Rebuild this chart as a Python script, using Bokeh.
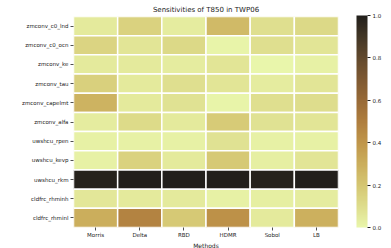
from bokeh.plotting import figure
from bokeh.models import ColumnDataSource, LinearColorMapper, ColorBar, FixedTicker
from bokeh.embed import file_html
from bokeh.resources import INLINE
import numpy as np

methods = ["Morris", "Delta", "RBD", "HDMR", "Sobol", "LB"]
params = ["zmconv_c0_lnd", "zmconv_c0_ocn", "zmconv_ke", "zmconv_tau",
          "zmconv_capelmt", "zmconv_alfa", "uwshcu_rpen", "uwshcu_kevp",
          "uwshcu_rkm", "cldfrc_rhminh", "cldfrc_rhminl"]

morris = [0.05, 0.14, 0.05, 0.16, 0.28, 0.04, 0.02, 0.02, 0.985, 0.06, 0.30]
delta  = [0.15, 0.07, 0.05, 0.05, 0.05, 0.11, 0.02, 0.15, 1.00, 0.05, 0.48]
rbd    = [0.04, 0.12, 0.04, 0.09, 0.08, 0.05, 0.02, 0.05, 1.00, 0.05, 0.19]
hdmr   = [0.25, 0.01, 0.07, 0.07, 0.01, 0.18, 0.08, 0.19, 1.00, 0.02, 0.42]
sobol  = [0.09, 0.09, 0.00, 0.04, 0.09, 0.08, 0.02, 0.03, 0.985, 0.03, 0.05]
lb     = [0.12, 0.07, 0.02, 0.07, 0.10, 0.07, 0.02, 0.07, 1.00, 0.04, 0.29]

cbar_ticks = [0.0, 0.2, 0.4, 0.6, 0.8, 1.0]

# approximate cmocean "turbid" colormap
anchors = [(0.0, (233, 246, 171)), (0.1, (222, 221, 140)), (0.2, (213, 198, 114)),
           (0.3, (203, 174, 92)), (0.4, (192, 150, 74)), (0.5, (175, 126, 62)),
           (0.6, (152, 106, 55)), (0.7, (126, 89, 50)), (0.8, (98, 73, 45)),
           (0.9, (67, 55, 38)), (1.0, (34, 31, 27))]
pos = np.array([a[0] for a in anchors])
cols = np.array([a[1] for a in anchors], dtype=float)
t = np.linspace(0, 1, 256)
palette = []
for v in t:
    r = np.interp(v, pos, cols[:, 0]); g = np.interp(v, pos, cols[:, 1]); b = np.interp(v, pos, cols[:, 2])
    palette.append("#%02x%02x%02x" % (int(round(r)), int(round(g)), int(round(b))))

series = [morris, delta, rbd, hdmr, sobol, lb]
xs, ys, vals = [], [], []
for m, s in zip(methods, series):
    for prm, v in zip(params, s):
        xs.append(m); ys.append(prm); vals.append(v)
src = ColumnDataSource(dict(x=xs, y=ys, v=vals))

mapper = LinearColorMapper(palette=palette, low=0.0, high=1.0)

FONT = "DejaVu Sans"
p = figure(x_range=methods, y_range=list(reversed(params)),
           frame_width=265, frame_height=211,
           output_backend="svg", toolbar_location=None,
           min_border_left=73, min_border_right=0, min_border_top=16, min_border_bottom=0,
           title="Sensitivities of T850 in TWP06")
p.title.text_font = FONT
p.title.text_font_size = "7px"
p.title.text_font_style = "normal"
p.title.align = "center"
p.title.text_color = "#222222"
p.title.standoff = 5

p.rect(x="x", y="y", width=1, height=1, source=src,
       fill_color={"field": "v", "transform": mapper},
       line_color="white", line_width=1.5)

p.outline_line_color = None
p.grid.grid_line_color = None
for ax in (p.xaxis[0], p.yaxis[0]):
    ax.axis_line_color = None
    ax.major_label_text_font = FONT
    ax.major_label_text_font_size = "5.5px"
    ax.major_label_text_color = "#222222"
    ax.major_tick_line_color = "#222222"
    ax.major_tick_line_width = 0.8
    ax.major_tick_in = 0
    ax.major_tick_out = 3
    ax.major_label_standoff = 2
p.xaxis.major_label_standoff = 1
p.xaxis.axis_label = "Methods"
p.xaxis.axis_label_text_font = FONT
p.xaxis.axis_label_text_font_size = "6px"
p.xaxis.axis_label_text_font_style = "normal"
p.xaxis.axis_label_text_color = "#222222"
p.xaxis.axis_label_standoff = 1

cb = ColorBar(color_mapper=mapper, width=11, height=212,
              ticker=FixedTicker(ticks=cbar_ticks),
              major_label_text_font=FONT, major_label_text_font_size="5.5px",
              major_label_text_color="#222222",
              major_tick_line_color="#222222", major_tick_in=0, major_tick_out=3,
              minor_tick_line_color=None, bar_line_color=None,
              padding=0, location=(18, 0), label_standoff=2)
cb.major_label_overrides = {t_: "%.1f" % t_ for t_ in cbar_ticks}
p.add_layout(cb, "right")

open("out.html", "w").write(file_html(p, INLINE))
